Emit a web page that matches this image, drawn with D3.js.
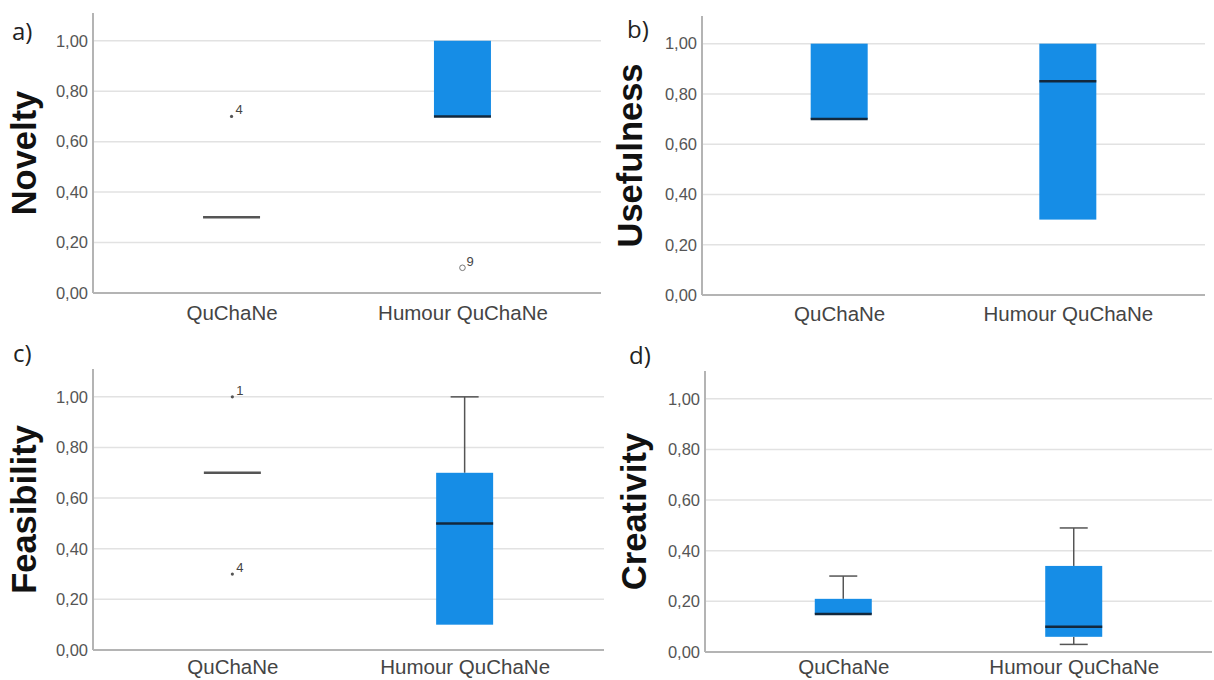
<!DOCTYPE html>
<html>
<head>
<meta charset="utf-8">
<script src="https://cdn.jsdelivr.net/npm/d3@7"></script>
<style>
  body { margin: 0; background: #fff; }
  svg { display: block; }
</style>
</head>
<body>
<svg id="chart" width="1214" height="680"></svg>
<script>
// groups on the x axis
var categories = ["QuChaNe", "Humour QuChaNe"];
var yTicks = [0, 0.2, 0.4, 0.6, 0.8, 1.0];

// five number summaries per group: [min, q1, median, q3, max]
var noveltyBox = [[0.30, 0.30, 0.30, 0.30, 0.30], [0.70, 0.70, 0.70, 1.00, 1.00]];
var usefulnessBox = [[0.70, 0.70, 0.70, 1.00, 1.00], [0.30, 0.30, 0.85, 1.00, 1.00]];
var feasibilityBox = [[0.70, 0.70, 0.70, 0.70, 0.70], [0.10, 0.10, 0.50, 0.70, 1.00]];
var creativityBox = [[0.15, 0.15, 0.15, 0.21, 0.30], [0.03, 0.06, 0.10, 0.34, 0.49]];

// outliers: [group index, value, case label, symbol]
var noveltyOut = [[0, 0.70, "4", "dot"], [1, 0.10, "9", "circle"]];
var usefulnessOut = [];
var feasibilityOut = [[0, 1.00, "1", "dot"], [0, 0.30, "4", "dot"]];
var creativityOut = [];

var measures = ["Novelty", "Usefulness", "Feasibility", "Creativity"];
var letters = ["a)", "b)", "c)", "d)"];

var panels = [
  {box: noveltyBox, out: noveltyOut, left: 93, right: 601, top: 13, bottom: 293, lx: 12, ly: 40, tx: 36, pad: 12},
  {box: usefulnessBox, out: usefulnessOut, left: 702, right: 1205, top: 16, bottom: 295, lx: 627, ly: 38, tx: 642, pad: 11},
  {box: feasibilityBox, out: feasibilityOut, left: 93, right: 604, top: 369, bottom: 650, lx: 13, ly: 362, tx: 36, pad: 9},
  {box: creativityBox, out: creativityOut, left: 705, right: 1212, top: 371, bottom: 652, lx: 629, ly: 364, tx: 646, pad: 7}
];

var svg = d3.select("#chart");
var boxWidth = 57, capWidth = 28;
var fmt = function(v) { return d3.format(".2f")(v).replace(".", ","); };

panels.forEach(function(p, i) {
  var g = svg.append("g");

  var x = d3.scalePoint().domain(categories).range([p.left, p.right]).padding(0.6);
  var y = d3.scaleLinear().domain([0, 1.11]).range([p.bottom, p.top]);

  // grid lines
  g.selectAll(".grid").data(yTicks.slice(1)).enter().append("line")
    .attr("x1", p.left).attr("x2", p.right)
    .attr("y1", function(d) { return y(d); }).attr("y2", function(d) { return y(d); })
    .attr("stroke", "#e2e2e2").attr("stroke-width", 1.5);

  // y axis with tick labels, no tick marks
  var yAxis = d3.axisLeft(y).tickValues(yTicks).tickFormat(fmt).tickSize(0).tickPadding(5);
  var ya = g.append("g").attr("transform", "translate(" + p.left + ",0)").call(yAxis);
  ya.select(".domain").remove();
  ya.selectAll("text")
    .style("font-family", "'Liberation Sans', Arial, sans-serif")
    .style("font-size", "16.5px").attr("fill", "#555");

  // x axis labels
  var xAxis = d3.axisBottom(x).tickSize(0).tickPadding(p.pad);
  var xa = g.append("g").attr("transform", "translate(0," + p.bottom + ")").call(xAxis);
  xa.select(".domain").remove();
  xa.selectAll("text")
    .style("font-family", "'Liberation Sans', Arial, sans-serif")
    .style("font-size", "20.5px").attr("fill", "#444");

  // axis lines
  g.append("line").attr("x1", p.left).attr("x2", p.left).attr("y1", p.top).attr("y2", p.bottom)
    .attr("stroke", "#b4b4b4").attr("stroke-width", 2);
  g.append("line").attr("x1", p.left).attr("x2", p.right).attr("y1", p.bottom).attr("y2", p.bottom)
    .attr("stroke", "#b4b4b4").attr("stroke-width", 2);

  // boxes
  var b = g.selectAll(".box").data(p.box).enter().append("g");
  var cx = function(d, j) { return x(categories[j]); };

  // upper whisker
  b.filter(function(d) { return d[4] > d[3]; }).each(function(d) {
    var j = p.box.indexOf(d), c = x(categories[j]);
    var s = d3.select(this);
    s.append("line").attr("x1", c).attr("x2", c).attr("y1", y(d[3])).attr("y2", y(d[4]))
      .attr("stroke", "#555").attr("stroke-width", 1.5);
    s.append("line").attr("x1", c - capWidth / 2).attr("x2", c + capWidth / 2).attr("y1", y(d[4])).attr("y2", y(d[4]))
      .attr("stroke", "#555").attr("stroke-width", 1.5);
  });
  // lower whisker
  b.filter(function(d) { return d[0] < d[1]; }).each(function(d) {
    var j = p.box.indexOf(d), c = x(categories[j]);
    var s = d3.select(this);
    s.append("line").attr("x1", c).attr("x2", c).attr("y1", y(d[1])).attr("y2", y(d[0]))
      .attr("stroke", "#555").attr("stroke-width", 1.5);
    s.append("line").attr("x1", c - capWidth / 2).attr("x2", c + capWidth / 2).attr("y1", y(d[0])).attr("y2", y(d[0]))
      .attr("stroke", "#555").attr("stroke-width", 1.5);
  });

  b.append("rect")
    .attr("x", function(d, j) { return cx(d, j) - boxWidth / 2; })
    .attr("y", function(d) { return y(d[3]); })
    .attr("width", boxWidth)
    .attr("height", function(d) { return y(d[1]) - y(d[3]); })
    .attr("fill", "#168de6");

  b.append("line")
    .attr("x1", function(d, j) { return cx(d, j) - boxWidth / 2; })
    .attr("x2", function(d, j) { return cx(d, j) + boxWidth / 2; })
    .attr("y1", function(d) { return y(d[2]); })
    .attr("y2", function(d) { return y(d[2]); })
    .attr("stroke", function(d) { return d[3] > d[1] ? "#13283c" : "#555"; })
    .attr("stroke-width", 2.5);

  // outliers
  var o = g.selectAll(".out").data(p.out).enter().append("g");
  o.append("circle")
    .attr("cx", function(d) { return x(categories[d[0]]); })
    .attr("cy", function(d) { return y(d[1]); })
    .attr("r", function(d) { return d[3] == "dot" ? 1.6 : 2.8; })
    .attr("fill", function(d) { return d[3] == "dot" ? "#555" : "none"; })
    .attr("stroke", "#777").attr("stroke-width", function(d) { return d[3] == "dot" ? 0 : 1; });
  o.append("text")
    .attr("x", function(d) { return x(categories[d[0]]) + 4; })
    .attr("y", function(d) { return y(d[1]) - 2; })
    .text(function(d) { return d[2]; })
    .style("font-family", "'Liberation Sans', Arial, sans-serif")
    .style("font-size", "13px").attr("fill", "#444");

  // y title
  svg.append("text")
    .attr("transform", "translate(" + p.tx + "," + ((p.top + p.bottom) / 2) + ") rotate(-90)")
    .attr("text-anchor", "middle")
    .style("font-family", "'Liberation Sans', Arial, sans-serif")
    .style("font-size", "34.5px").style("font-weight", "bold")
    .attr("fill", "#111")
    .text(measures[i]);

  // panel letter
  svg.append("text")
    .attr("x", p.lx).attr("y", p.ly)
    .style("font-family", "'Open Sans', 'DejaVu Sans', sans-serif")
    .style("font-size", "24px").attr("fill", "#222")
    .text(letters[i]);
});
</script>
</body>
</html>
